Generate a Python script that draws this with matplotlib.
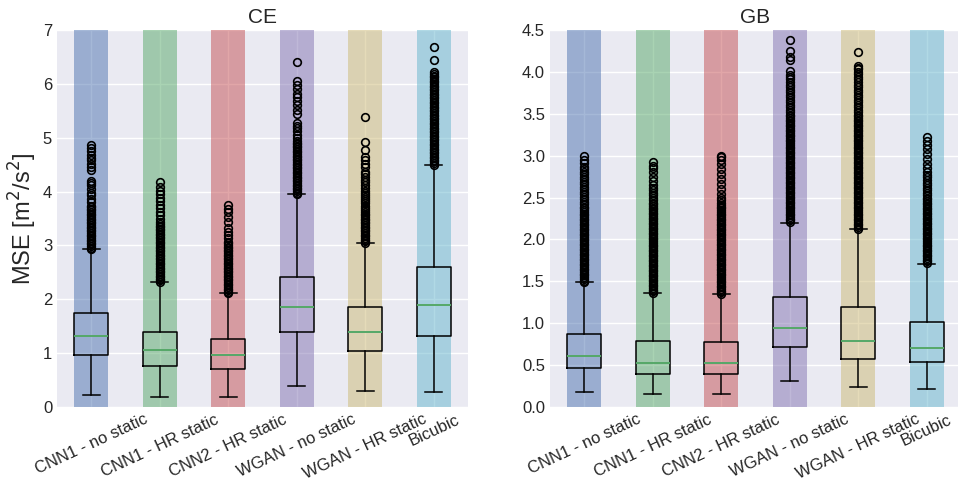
"""
Boxplots of MSE per model for the CE and GB domains.
Output: out.png
"""

import matplotlib
matplotlib.use("Agg")
import matplotlib.pyplot as plt

MODELS = ["CNN1 - no static", "CNN1 - HR static", "CNN2 - HR static",
          "WGAN - no static", "WGAN - HR static", "Bicubic"]
COLORS = ["#4C72B0", "#55A868", "#C44E52", "#8172B2", "#CCB974", "#64B5CD"]

# CE box statistics
CE_Q1 = [0.97, 0.76, 0.71, 1.40, 1.04, 1.32]
CE_MED = [1.32, 1.05, 0.97, 1.86, 1.40, 1.89]
CE_Q3 = [1.75, 1.40, 1.26, 2.42, 1.85, 2.60]
CE_LO = [0.22, 0.18, 0.18, 0.39, 0.30, 0.28]
CE_HI = [2.93, 2.32, 2.11, 3.95, 3.05, 4.50]

CE_FLIERS = [
    [2.93, 2.96, 2.99, 3.02, 3.05, 3.08, 3.11, 3.14, 3.17, 3.20, 3.23, 3.26,
     3.29, 3.32, 3.35, 3.38, 3.41, 3.44, 3.47, 3.50, 3.53, 3.56, 3.59, 3.62,
     3.65, 3.68, 3.71, 3.74, 3.80, 3.87, 3.93, 3.98, 4.05, 4.12, 4.16, 4.19,
     4.40, 4.46, 4.52, 4.58, 4.63, 4.68, 4.75, 4.81, 4.86],
    [2.32, 2.35, 2.38, 2.41, 2.44, 2.47, 2.50, 2.53, 2.56, 2.59, 2.62, 2.65,
     2.68, 2.71, 2.74, 2.77, 2.80, 2.83, 2.86, 2.89, 2.92, 2.95, 2.98, 3.01,
     3.04, 3.07, 3.10, 3.13, 3.16, 3.19, 3.22, 3.25, 3.28, 3.31, 3.34, 3.37,
     3.40, 3.44, 3.50, 3.57, 3.63, 3.70, 3.76, 3.82, 3.88, 3.95, 4.02, 4.09,
     4.18],
    [2.11, 2.14, 2.17, 2.20, 2.23, 2.26, 2.29, 2.32, 2.35, 2.38, 2.41, 2.44,
     2.47, 2.50, 2.53, 2.56, 2.59, 2.62, 2.65, 2.68, 2.71, 2.74, 2.77, 2.80,
     2.83, 2.86, 2.89, 2.92, 2.95, 2.98, 3.01, 3.04, 3.07, 3.13, 3.19, 3.25,
     3.33, 3.44, 3.53, 3.62, 3.68, 3.75],
    [3.95, 3.98, 4.01, 4.04, 4.07, 4.10, 4.13, 4.16, 4.19, 4.22, 4.25, 4.28,
     4.31, 4.34, 4.37, 4.40, 4.43, 4.46, 4.49, 4.52, 4.55, 4.58, 4.61, 4.64,
     4.67, 4.70, 4.73, 4.76, 4.79, 4.82, 4.85, 4.88, 4.91, 4.94, 5.00, 5.05,
     5.12, 5.18, 5.22, 5.27, 5.45, 5.52, 5.60, 5.68, 5.75, 5.82, 5.90, 5.98,
     6.05, 6.41],
    [3.05, 3.08, 3.11, 3.14, 3.17, 3.20, 3.23, 3.26, 3.29, 3.32, 3.35, 3.38,
     3.41, 3.44, 3.47, 3.50, 3.53, 3.56, 3.59, 3.62, 3.66, 3.70, 3.74, 3.78,
     3.82, 3.86, 3.90, 3.94, 3.98, 4.02, 4.07, 4.12, 4.17, 4.22, 4.28, 4.33,
     4.37, 4.45, 4.52, 4.58, 4.64, 4.77, 4.92, 5.39],
    [4.50, 4.53, 4.56, 4.59, 4.62, 4.65, 4.68, 4.71, 4.74, 4.77, 4.80, 4.83,
     4.86, 4.89, 4.92, 4.95, 4.98, 5.01, 5.04, 5.07, 5.10, 5.13, 5.16, 5.19,
     5.22, 5.25, 5.28, 5.31, 5.34, 5.37, 5.40, 5.43, 5.46, 5.49, 5.52, 5.55,
     5.58, 5.61, 5.64, 5.67, 5.70, 5.73, 5.76, 5.79, 5.82, 5.85, 5.88, 5.91,
     5.94, 5.97, 6.00, 6.03, 6.06, 6.09, 6.12, 6.15, 6.18, 6.22, 6.44, 6.69],
]

# GB box statistics
GB_Q1 = [0.46, 0.39, 0.39, 0.72, 0.575, 0.54]
GB_MED = [0.605, 0.53, 0.53, 0.94, 0.79, 0.705]
GB_Q3 = [0.87, 0.79, 0.775, 1.31, 1.19, 1.01]
GB_LO = [0.18, 0.16, 0.16, 0.31, 0.235, 0.215]
GB_HI = [1.49, 1.36, 1.345, 2.20, 2.12, 1.71]

GB_FLIERS = [
    [1.49, 1.51, 1.53, 1.55, 1.57, 1.59, 1.61, 1.63, 1.65, 1.67, 1.69, 1.71,
     1.73, 1.75, 1.77, 1.79, 1.81, 1.83, 1.85, 1.87, 1.89, 1.91, 1.93, 1.95,
     1.97, 1.99, 2.01, 2.03, 2.05, 2.07, 2.09, 2.11, 2.13, 2.15, 2.17, 2.19,
     2.21, 2.23, 2.25, 2.27, 2.29, 2.31, 2.33, 2.35, 2.37, 2.39, 2.42, 2.45,
     2.48, 2.51, 2.54, 2.57, 2.60, 2.63, 2.66, 2.69, 2.72, 2.75, 2.78, 2.81,
     2.84, 2.87, 2.91, 2.95, 3.00],
    [1.36, 1.38, 1.40, 1.42, 1.44, 1.46, 1.48, 1.50, 1.52, 1.54, 1.56, 1.58,
     1.60, 1.62, 1.64, 1.66, 1.68, 1.70, 1.72, 1.74, 1.76, 1.78, 1.80, 1.82,
     1.84, 1.86, 1.88, 1.90, 1.92, 1.94, 1.96, 1.98, 2.00, 2.02, 2.04, 2.06,
     2.08, 2.10, 2.12, 2.14, 2.16, 2.18, 2.20, 2.22, 2.24, 2.26, 2.28, 2.30,
     2.32, 2.34, 2.36, 2.38, 2.40, 2.42, 2.44, 2.47, 2.50, 2.53, 2.56, 2.59,
     2.62, 2.65, 2.70, 2.75, 2.80, 2.85, 2.88, 2.92],
    [1.35, 1.37, 1.39, 1.41, 1.43, 1.45, 1.47, 1.49, 1.51, 1.53, 1.55, 1.57,
     1.59, 1.61, 1.63, 1.65, 1.67, 1.69, 1.71, 1.73, 1.75, 1.77, 1.79, 1.81,
     1.83, 1.85, 1.87, 1.89, 1.91, 1.93, 1.95, 1.97, 1.99, 2.01, 2.03, 2.05,
     2.07, 2.09, 2.11, 2.13, 2.15, 2.17, 2.19, 2.21, 2.23, 2.25, 2.27, 2.29,
     2.31, 2.33, 2.35, 2.37, 2.39, 2.41, 2.44, 2.47, 2.50, 2.54, 2.60, 2.66,
     2.72, 2.78, 2.84, 2.90, 2.95, 2.98, 3.00],
    [2.21, 2.23, 2.25, 2.27, 2.29, 2.31, 2.33, 2.35, 2.37, 2.39, 2.41, 2.43,
     2.45, 2.47, 2.49, 2.51, 2.53, 2.55, 2.57, 2.59, 2.61, 2.63, 2.65, 2.67,
     2.69, 2.71, 2.73, 2.75, 2.77, 2.79, 2.81, 2.83, 2.85, 2.87, 2.89, 2.91,
     2.93, 2.95, 2.97, 2.99, 3.01, 3.03, 3.05, 3.07, 3.09, 3.11, 3.13, 3.15,
     3.17, 3.19, 3.21, 3.23, 3.25, 3.27, 3.29, 3.31, 3.33, 3.35, 3.37, 3.39,
     3.41, 3.43, 3.45, 3.47, 3.49, 3.52, 3.55, 3.58, 3.61, 3.64, 3.67, 3.70,
     3.73, 3.76, 3.79, 3.82, 3.85, 3.88, 3.91, 3.94, 3.96, 4.01, 4.14, 4.18,
     4.25, 4.38],
    [2.13, 2.15, 2.17, 2.19, 2.21, 2.23, 2.25, 2.27, 2.29, 2.31, 2.33, 2.35,
     2.37, 2.39, 2.41, 2.43, 2.45, 2.47, 2.49, 2.51, 2.53, 2.55, 2.57, 2.59,
     2.61, 2.63, 2.65, 2.67, 2.69, 2.71, 2.73, 2.75, 2.77, 2.79, 2.81, 2.83,
     2.85, 2.87, 2.89, 2.91, 2.93, 2.95, 2.97, 2.99, 3.01, 3.03, 3.05, 3.07,
     3.09, 3.11, 3.13, 3.15, 3.17, 3.19, 3.21, 3.23, 3.25, 3.27, 3.29, 3.31,
     3.33, 3.35, 3.37, 3.39, 3.41, 3.43, 3.45, 3.47, 3.49, 3.52, 3.55, 3.58,
     3.61, 3.64, 3.67, 3.70, 3.73, 3.76, 3.79, 3.82, 3.85, 3.88, 3.91, 3.94,
     3.97, 4.00, 4.03, 4.05, 4.07, 4.24],
    [1.72, 1.74, 1.76, 1.78, 1.80, 1.82, 1.84, 1.86, 1.88, 1.90, 1.92, 1.94,
     1.96, 1.98, 2.00, 2.02, 2.04, 2.06, 2.08, 2.10, 2.12, 2.14, 2.16, 2.18,
     2.20, 2.22, 2.24, 2.26, 2.28, 2.30, 2.32, 2.34, 2.36, 2.38, 2.40, 2.42,
     2.44, 2.46, 2.48, 2.50, 2.53, 2.56, 2.59, 2.62, 2.65, 2.68, 2.71, 2.74,
     2.77, 2.80, 2.85, 2.90, 2.96, 3.02, 3.08, 3.13, 3.18, 3.22],
]

plt.rcParams.update({
    "font.family": ["Liberation Sans", "DejaVu Sans"],
    "axes.facecolor": "#EAEAF2",
    "axes.edgecolor": "white",
    "axes.grid": True,
    "axes.axisbelow": True,
    "grid.color": "white",
    "grid.linewidth": 1.0,
    "xtick.major.size": 0,
    "ytick.major.size": 0,
    "xtick.color": "#262626",
    "ytick.color": "#262626",
    "text.color": "#262626",
    "axes.labelcolor": "#262626",
})


def make_stats(q1, med, q3, lo, hi, fliers):
    stats = []
    for i in range(len(MODELS)):
        stats.append({"q1": q1[i], "med": med[i], "q3": q3[i],
                      "whislo": lo[i], "whishi": hi[i], "fliers": fliers[i]})
    return stats


def draw_panel(ax, stats, title, ymax, yticks, ticklabels):
    positions = list(range(1, len(MODELS) + 1))
    for p, c in zip(positions, COLORS):
        ax.axvspan(p - 0.25, p + 0.25, color=c, alpha=0.5, lw=0, zorder=1)
    ax.bxp(stats, positions=positions, widths=0.5,
           boxprops=dict(color="black", linewidth=1.1),
           whiskerprops=dict(color="black", linewidth=1.1),
           capprops=dict(color="black", linewidth=1.1),
           medianprops=dict(color="#55A868", linewidth=1.4),
           flierprops=dict(marker="o", markerfacecolor="none",
                           markeredgecolor="black", markersize=5.5,
                           markeredgewidth=1.2))
    ax.set_xlim(0.5, 6.5)
    ax.set_ylim(0, ymax)
    ax.set_yticks(yticks)
    ax.set_yticklabels(ticklabels, fontsize=12)
    ax.set_xticks(positions)
    ax.set_xticklabels(MODELS, rotation=25, ha="center", fontsize=12)
    ax.set_title(title, fontsize=15, pad=5)
    for s in ax.spines.values():
        s.set_visible(False)


fig = plt.figure(figsize=(9.58, 4.82), dpi=100)
ax1 = fig.add_axes([0.0595, 0.1556, 0.429, 0.782])
ax2 = fig.add_axes([0.574, 0.1556, 0.429, 0.782])

draw_panel(ax1, make_stats(CE_Q1, CE_MED, CE_Q3, CE_LO, CE_HI, CE_FLIERS),
           "CE", 7, [0, 1, 2, 3, 4, 5, 6, 7],
           ["0", "1", "2", "3", "4", "5", "6", "7"])
draw_panel(ax2, make_stats(GB_Q1, GB_MED, GB_Q3, GB_LO, GB_HI, GB_FLIERS),
           "GB", 4.5, [0, 0.5, 1, 1.5, 2, 2.5, 3, 3.5, 4, 4.5],
           ["0.0", "0.5", "1.0", "1.5", "2.0", "2.5", "3.0", "3.5", "4.0", "4.5"])

ax1.set_ylabel("MSE [m$^2$/s$^2$]", fontsize=17, labelpad=3)

fig.savefig("out.png", dpi=100)
